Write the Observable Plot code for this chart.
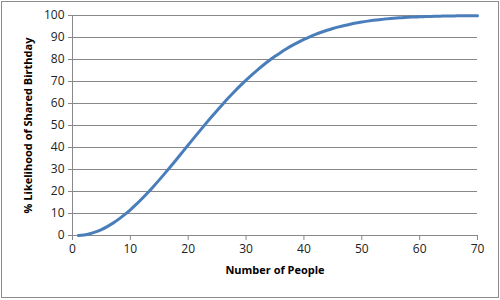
<!DOCTYPE html>
<html>
<head>
<meta charset="utf-8">
<script src="https://cdn.jsdelivr.net/npm/d3@7"></script>
<script src="https://cdn.jsdelivr.net/npm/@observablehq/plot@0.6"></script>
<style>
  html, body { margin: 0; padding: 0; background: #fff; }
  #wrap { position: relative; width: 500px; height: 300px; }
  #border { position: absolute; left: 1px; top: 1px; width: 496px; height: 295px; border: 1px solid #8c8c8c; pointer-events: none; }
</style>
</head>
<body>
<div id="wrap"><div id="border"></div></div>
<script>
const people = [1,2,3,4,5,6,7,8,9,10,11,12,13,14,15,16,17,18,19,20,21,22,23,24,25,26,27,28,29,30,31,32,33,34,35,36,37,38,39,40,41,42,43,44,45,46,47,48,49,50,51,52,53,54,55,56,57,58,59,60,61,62,63,64,65,66,67,68,69,70];
const likelihood = [0,0.27,0.82,1.64,2.71,4.05,5.62,7.43,9.46,11.69,14.11,16.70,19.44,22.31,25.29,28.36,31.50,34.69,37.91,41.14,44.37,47.57,50.73,53.83,56.87,59.82,62.69,65.45,68.10,70.63,73.05,75.33,77.50,79.53,81.44,83.22,84.87,86.41,87.82,89.12,90.32,91.40,92.39,93.29,94.10,94.83,95.48,96.06,96.58,97.04,97.44,97.80,98.11,98.39,98.63,98.83,99.01,99.17,99.30,99.41,99.51,99.59,99.66,99.72,99.77,99.81,99.85,99.88,99.90,99.92];
const xTicks = [0,10,20,30,40,50,60,70];
const yTicks = [0,10,20,30,40,50,60,70,80,90,100];
const xTitle = "Number of People";
const yTitle = "% Likelihood of Shared Birthday";

const data = people.map((p, i) => ({people: p, pct: likelihood[i]}));

const chart = Plot.plot({
  width: 500,
  height: 300,
  marginLeft: 72,
  marginRight: 23,
  marginTop: 15,
  marginBottom: 65,
  style: {fontFamily: "Open Sans, sans-serif", fontSize: "12px", color: "#222", background: "transparent"},
  x: {domain: [0, 70]},
  y: {domain: [0, 100]},
  marks: [
    Plot.gridY(yTicks, {stroke: "#888", strokeOpacity: 1}),
    Plot.axisY(yTicks, {tickSize: 4, tickPadding: 4, stroke: "#888", label: null}),
    Plot.axisX(xTicks, {tickSize: 5, tickPadding: 4, stroke: "#888", label: null}),
    Plot.ruleX([0], {stroke: "#888"}),
    Plot.ruleY([0], {stroke: "#888"}),
    Plot.line(data, {x: "people", y: "pct", stroke: "#4a7ebb", strokeWidth: 3, curve: "catmull-rom"}),
    Plot.text([xTitle], {frameAnchor: "bottom", dy: 38, text: d => d, fontWeight: "bold", fontSize: 11, fill: "#000", textAnchor: "middle"}),
    Plot.text([yTitle], {frameAnchor: "left", dx: -44, rotate: -90, text: d => d, fontWeight: "bold", fontSize: 11, fill: "#000", textAnchor: "middle", lineAnchor: "middle"})
  ]
});
document.getElementById("wrap").prepend(chart);
chart.style.display = "block";
</script>
</body>
</html>
